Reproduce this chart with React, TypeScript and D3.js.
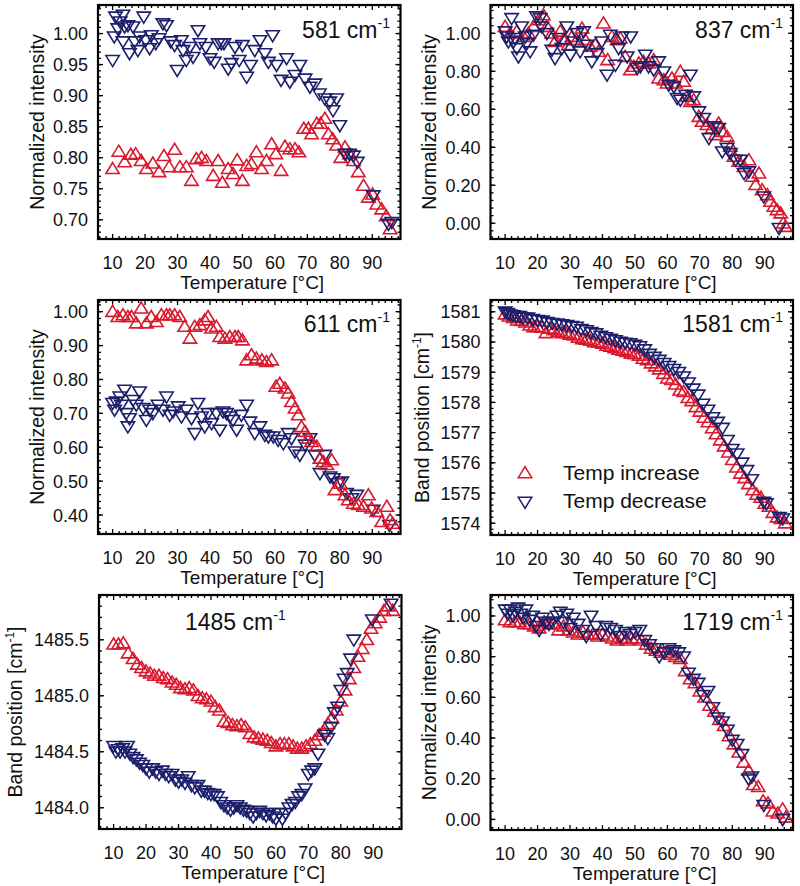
import React from "react";
import * as d3 from "d3";

// ---------------- DATA ----------------
// 581 cm-1
const t581Inc = [10, 11.9, 13.7, 15.6, 17.1, 18.8, 20.4, 22.4, 24.3, 25.8, 27.4, 29.1, 30.7, 32.7, 34.3, 35.8, 37.4, 38.9, 41, 42.5, 43.8, 45.6, 47.1, 48.4, 50, 51.3, 52.8, 54.3, 55.9, 57.4, 59, 60.3, 61.9, 63.1, 64.6, 66.2, 67.4, 68.9, 70.3, 71.3, 72.9, 74.1, 75.4, 76.5, 77.8, 79, 80.3, 81.6, 83, 84.2, 85.7, 87.3, 88.8, 90.1, 91.4, 92.9, 94.3, 95.5];
const v581Inc = [0.782, 0.81, 0.793, 0.805, 0.806, 0.795, 0.782, 0.791, 0.777, 0.803, 0.785, 0.813, 0.785, 0.785, 0.763, 0.798, 0.8, 0.795, 0.771, 0.795, 0.76, 0.782, 0.774, 0.796, 0.763, 0.787, 0.79, 0.809, 0.782, 0.795, 0.822, 0.806, 0.779, 0.818, 0.814, 0.814, 0.809, 0.847, 0.847, 0.838, 0.855, 0.855, 0.863, 0.838, 0.83, 0.82, 0.8, 0.817, 0.806, 0.795, 0.777, 0.755, 0.736, 0.741, 0.725, 0.717, 0.706, 0.685];
const t581Dec = [10, 10.5, 10.9, 11.6, 12.3, 13.2, 13.7, 13.2, 14.7, 15.2, 16.3, 16.8, 17.8, 18.3, 19.6, 20.2, 21.4, 21.9, 23.3, 24.3, 25.5, 26.6, 27.9, 29.1, 29.9, 31.2, 31.7, 32.7, 33.8, 34.8, 36.3, 36.9, 38.7, 40, 41.3, 42.5, 43.5, 44.3, 45.6, 46.6, 47.7, 49, 50, 51.3, 52.5, 53.8, 55.4, 56.9, 58, 59.3, 60.5, 61.9, 63.6, 64.6, 66.2, 67.7, 69.3, 70.8, 72.3, 73.7, 75.4, 76.9, 77.9, 79, 80, 81.6, 83, 84.2, 85.4, 90.3, 95, 96];
const v581Dec = [0.957, 0.995, 1.027, 1.008, 1.019, 1.03, 1.011, 0.987, 1.013, 0.968, 1.011, 0.987, 0.973, 0.995, 1.027, 0.989, 0.976, 0.997, 0.984, 0.992, 1.016, 1.013, 0.987, 0.981, 0.941, 0.989, 0.973, 0.957, 0.978, 0.962, 1.005, 0.984, 0.978, 0.96, 0.954, 0.984, 0.984, 0.984, 0.943, 0.952, 0.978, 0.957, 0.981, 0.93, 0.949, 0.973, 0.989, 0.968, 0.954, 0.997, 0.949, 0.925, 0.96, 0.922, 0.933, 0.949, 0.927, 0.914, 0.919, 0.903, 0.895, 0.89, 0.876, 0.895, 0.852, 0.806, 0.806, 0.803, 0.793, 0.739, 0.693, 0.696];

// 837 cm-1
const t837Inc = [10, 11.5, 13.6, 15.7, 17.2, 18.7, 20.3, 21.8, 22.9, 24.4, 25.4, 27, 28, 29.5, 30.6, 32.1, 33.7, 34.7, 36.2, 37.8, 38.8, 40.3, 41.6, 42.9, 44.5, 45.5, 47, 48.6, 49.6, 51.2, 52.7, 54.2, 55.8, 57.3, 58.9, 59.9, 61.4, 62.5, 64, 65, 66.1, 67.1, 68.1, 69.7, 70.7, 72.2, 73.8, 74.8, 75.8, 76.9, 78.4, 79.4, 80.5, 82, 83.6, 85.1, 86.1, 87.2, 88.2, 89.2, 90.8, 91.8, 92.8, 93.8, 94.9, 95.7, 96.4];
const v837Inc = [1.035, 1.0, 1.01, 0.982, 1.0, 1.035, 1.07, 1.096, 1.035, 1.0, 0.956, 1.01, 0.965, 0.939, 0.982, 0.965, 1.026, 0.965, 0.93, 0.939, 0.904, 1.053, 0.86, 0.982, 0.965, 0.974, 0.877, 0.807, 0.825, 0.842, 0.851, 0.842, 0.86, 0.763, 0.754, 0.737, 0.763, 0.737, 0.798, 0.746, 0.667, 0.64, 0.649, 0.561, 0.535, 0.518, 0.5, 0.465, 0.526, 0.482, 0.456, 0.404, 0.351, 0.325, 0.298, 0.333, 0.246, 0.202, 0.263, 0.175, 0.149, 0.114, 0.088, 0.07, 0.053, 0.0, -0.018];
const t837Dec = [10, 10.5, 11, 12, 12.6, 13, 13.6, 14.1, 15.1, 16.2, 16.7, 17.7, 18.7, 19.7, 20.8, 21.3, 22.9, 24.4, 25.4, 26.5, 27.5, 29, 30.1, 31.1, 32.1, 33.1, 34.2, 35.2, 36.7, 38.3, 39.8, 41.4, 42.4, 44, 45, 46.1, 47.6, 48.7, 50.7, 51.7, 53.2, 54.2, 55.8, 57.3, 58.9, 60.4, 62, 63, 64, 65.6, 67.1, 68.1, 69.7, 71.2, 72.8, 74.3, 75.8, 76.9, 78.4, 79.4, 81, 82.5, 83.6, 85.1, 89.7, 94.4];
const v837Dec = [1.009, 0.982, 0.956, 1.079, 0.956, 0.974, 0.921, 0.877, 1.035, 0.982, 0.947, 0.904, 0.991, 1.088, 1.079, 1.035, 1.0, 0.912, 0.868, 0.974, 0.921, 1.035, 0.886, 0.956, 1.0, 0.904, 1.009, 0.939, 0.851, 0.895, 0.956, 0.781, 0.991, 0.833, 0.921, 0.982, 0.877, 0.982, 0.816, 0.825, 0.886, 0.825, 0.807, 0.851, 0.798, 0.728, 0.719, 0.658, 0.649, 0.675, 0.781, 0.667, 0.588, 0.553, 0.447, 0.509, 0.5, 0.377, 0.395, 0.368, 0.333, 0.333, 0.263, 0.272, 0.14, -0.026];

// 611 cm-1
const t611Inc = [10, 11.6, 13.2, 14.7, 15.8, 17.3, 18.8, 20.4, 21.9, 23.5, 25, 26.6, 27.6, 29.1, 30.7, 32.2, 33.8, 35.3, 36.9, 38.4, 39.4, 40.5, 42, 43, 44.6, 46.1, 47.7, 48.7, 50, 51.3, 52.8, 54.3, 56, 57.4, 59, 60.3, 61.5, 63.1, 64.1, 65.1, 66.2, 67.2, 68.2, 69.3, 70.3, 71.3, 72.9, 73.9, 74.9, 76, 77.5, 78.5, 80.1, 81.6, 82.6, 84.2, 85.7, 87.3, 88.8, 89.8, 91.4, 92.9, 94.5, 95.5, 96.3];
const v611Inc = [1.0, 0.985, 0.99, 0.985, 0.985, 0.966, 1.01, 0.966, 0.985, 0.97, 0.99, 0.99, 0.99, 0.99, 0.985, 0.956, 0.921, 0.956, 0.961, 0.975, 0.985, 0.951, 0.956, 0.926, 0.921, 0.926, 0.926, 0.926, 0.916, 0.857, 0.872, 0.862, 0.857, 0.852, 0.857, 0.779, 0.788, 0.774, 0.759, 0.734, 0.715, 0.695, 0.66, 0.646, 0.626, 0.616, 0.602, 0.567, 0.557, 0.548, 0.562, 0.474, 0.493, 0.459, 0.444, 0.434, 0.43, 0.425, 0.459, 0.42, 0.41, 0.38, 0.425, 0.385, 0.375];
const t611Dec = [10, 10.6, 11.1, 12.2, 12.7, 13.7, 14.2, 14.7, 15.2, 16.3, 17.3, 18.3, 19.4, 20.4, 21.4, 22.4, 24, 25.5, 26.6, 27.6, 28.6, 30.2, 31.2, 32.7, 34.3, 35.3, 36.3, 37.4, 38.4, 39.4, 40.5, 42, 43, 44, 45.1, 46.1, 47.1, 48.2, 49.7, 51.3, 52.3, 53.8, 55.4, 56.9, 58, 59.5, 61, 62.6, 64.1, 65.1, 66.2, 67.7, 69.3, 70.8, 72.3, 73.9, 75.4, 77, 78, 79.5, 80.6, 82.1, 83.7, 85.2, 90.3, 95.3];
const v611Dec = [0.73, 0.71, 0.734, 0.749, 0.725, 0.769, 0.7, 0.661, 0.685, 0.739, 0.725, 0.764, 0.715, 0.68, 0.71, 0.7, 0.725, 0.71, 0.749, 0.695, 0.705, 0.72, 0.69, 0.71, 0.685, 0.641, 0.73, 0.69, 0.661, 0.7, 0.67, 0.7, 0.651, 0.705, 0.7, 0.69, 0.68, 0.651, 0.695, 0.725, 0.675, 0.641, 0.661, 0.636, 0.631, 0.631, 0.621, 0.611, 0.641, 0.626, 0.587, 0.577, 0.607, 0.626, 0.577, 0.523, 0.577, 0.513, 0.508, 0.493, 0.498, 0.464, 0.449, 0.459, 0.415, 0.37];

// 1581 cm-1
const t1581Inc = [10, 11.2, 12.5, 13.8, 15, 16.3, 17.6, 18.8, 20, 21.3, 22.6, 23.8, 25, 26.3, 27.5, 28.8, 30, 31.3, 32.5, 33.8, 35, 36.3, 37.5, 38.8, 40, 41.3, 42.5, 43.8, 45, 46.3, 47.5, 48.8, 50, 51.3, 52.5, 53.8, 55, 56.3, 57.5, 58.8, 60, 61.3, 62.5, 63.8, 65, 66.3, 67.5, 68.8, 70, 71.3, 72.5, 73.8, 75, 76.3, 77.5, 78.8, 80, 81.3, 82.5, 83.8, 85, 86.3, 87.5, 88.8, 90, 91.3, 92.5, 93.8, 95, 96.3];
const v1581Inc = [1580.92, 1580.85, 1580.8, 1580.72, 1580.7, 1580.65, 1580.55, 1580.5, 1580.5, 1580.48, 1580.3, 1580.45, 1580.4, 1580.35, 1580.3, 1580.3, 1580.25, 1580.22, 1580.15, 1580.1, 1580.08, 1580.05, 1580.0, 1579.98, 1579.95, 1579.88, 1579.85, 1579.8, 1579.75, 1579.72, 1579.68, 1579.62, 1579.6, 1579.55, 1579.45, 1579.4, 1579.3, 1579.2, 1579.1, 1578.95, 1578.8, 1578.75, 1578.6, 1578.4, 1578.35, 1578.15, 1578.05, 1577.85, 1577.7, 1577.5, 1577.35, 1577.15, 1576.95, 1576.75, 1576.55, 1576.35, 1576.1, 1575.85, 1575.65, 1575.5, 1575.3, 1575.1, 1574.95, 1574.85, 1574.65, 1574.55, 1574.35, 1574.2, 1574.15, 1574.0];
const t1581Dec = [10, 10.8, 11.6, 12.5, 13.5, 14.5, 15.5, 17, 18.5, 20, 21.5, 23, 24.5, 26, 27.5, 29, 30.5, 32, 33.5, 35, 36.5, 38, 39.5, 41, 42.5, 44, 45.5, 47, 48.5, 50, 51.5, 53, 54.5, 56, 57.5, 59, 60.5, 62, 63.5, 65, 66.5, 68, 69.5, 71, 72.5, 74, 75.5, 77, 78.5, 80, 81.5, 83, 84.5, 86, 89.7, 90.5, 94.5, 95.5];
const v1581Dec = [1581.0, 1580.95, 1580.9, 1580.88, 1580.85, 1580.85, 1580.8, 1580.8, 1580.75, 1580.72, 1580.7, 1580.65, 1580.62, 1580.6, 1580.58, 1580.55, 1580.52, 1580.5, 1580.42, 1580.38, 1580.32, 1580.28, 1580.2, 1580.15, 1580.1, 1580.05, 1580.0, 1579.97, 1579.95, 1579.9, 1579.85, 1579.75, 1579.6, 1579.5, 1579.4, 1579.3, 1579.2, 1579.1, 1579.0, 1578.85, 1578.65, 1578.45, 1578.25, 1577.95, 1577.75, 1577.5, 1577.35, 1577.15, 1576.75, 1576.45, 1576.3, 1576.0, 1575.75, 1575.45, 1574.7, 1574.65, 1574.2, 1574.15];

// 1485 cm-1
const t1485Inc = [10, 11.5, 13, 14.5, 16, 17.3, 18.6, 20, 21.3, 22.6, 24, 25.3, 26.6, 28, 29.3, 30.6, 32, 33.3, 34.6, 36, 37.3, 38.6, 40, 41.3, 42.6, 44, 45.3, 46.6, 48, 49.3, 50.6, 52, 53.3, 54.6, 56, 57.3, 58.6, 60, 61.3, 62.6, 64, 65.3, 66.6, 68, 69.3, 70.6, 72, 73.3, 74.6, 76, 77.3, 78.6, 80, 81.3, 82.6, 84, 85.3, 86.6, 88, 89.3, 90.6, 92, 93.3, 94.6, 96];
const v1485Inc = [1485.46, 1485.46, 1485.47, 1485.38, 1485.33, 1485.28, 1485.25, 1485.22, 1485.2, 1485.18, 1485.18, 1485.16, 1485.15, 1485.12, 1485.1, 1485.07, 1485.06, 1485.07, 1485.05, 1485.0, 1484.98, 1484.97, 1484.95, 1484.9, 1484.87, 1484.77, 1484.76, 1484.74, 1484.73, 1484.74, 1484.72, 1484.66, 1484.63, 1484.62, 1484.61, 1484.6, 1484.58, 1484.55, 1484.57, 1484.57, 1484.57, 1484.55, 1484.53, 1484.53, 1484.55, 1484.57, 1484.6, 1484.65, 1484.68, 1484.75, 1484.8, 1484.87, 1484.95, 1485.05, 1485.15, 1485.25, 1485.35, 1485.42, 1485.5, 1485.6, 1485.65, 1485.7, 1485.76, 1485.8, 1485.76];
const t1485Dec = [10, 10.7, 11.4, 12, 12.8, 13.5, 14.3, 15, 16, 17, 18, 19, 20, 21, 22, 23, 24, 25, 26, 27, 28, 29, 30, 31, 32, 33, 34, 35, 36, 37, 38, 39, 40, 41, 42, 43, 44, 45, 46, 47, 48, 49, 50, 51, 52, 53, 54, 55, 56, 57, 58, 59, 60, 61, 62, 63, 64, 65, 66, 67, 68, 69, 70, 71, 72, 73, 75, 76, 77, 78, 79, 80, 81, 82, 83, 84, 89.7, 95.5];
const v1485Dec = [1484.55, 1484.5, 1484.52, 1484.5, 1484.53, 1484.5, 1484.55, 1484.48, 1484.45, 1484.43, 1484.4, 1484.38, 1484.35, 1484.32, 1484.35, 1484.32, 1484.3, 1484.33, 1484.3, 1484.28, 1484.3, 1484.25, 1484.23, 1484.25, 1484.22, 1484.28, 1484.2, 1484.18, 1484.2, 1484.15, 1484.15, 1484.13, 1484.12, 1484.12, 1484.1, 1484.05, 1484.02, 1484.0, 1483.98, 1484.0, 1484.02, 1484.0, 1483.98, 1483.97, 1483.95, 1483.92, 1483.95, 1483.97, 1483.95, 1483.93, 1483.95, 1483.92, 1483.9, 1483.95, 1483.9, 1483.95, 1484.0, 1484.03, 1484.05, 1484.1, 1484.12, 1484.17, 1484.3, 1484.33, 1484.35, 1484.48, 1484.65, 1484.62, 1484.72, 1484.85, 1484.9, 1485.05, 1485.15, 1485.2, 1485.33, 1485.5, 1485.68, 1485.82];

// 1719 cm-1
const t1719Inc = [10, 11.5, 13, 14.5, 16, 17.5, 19, 20.5, 22, 23.5, 25, 26.5, 28, 29.5, 31, 32.5, 34, 35.5, 37, 38.5, 40, 41.5, 43, 44.5, 46, 47.5, 49, 50.5, 52, 53.5, 55, 56.5, 58, 59.5, 61, 62.5, 64, 65.5, 67, 68.5, 70, 71.5, 73, 74.5, 76, 77.5, 79, 80.5, 82, 83.5, 85, 86.5, 88, 89.5, 91, 92.5, 94, 95.5, 96.5];
const v1719Inc = [0.98, 0.97, 0.97, 0.97, 0.96, 0.96, 0.95, 0.94, 0.97, 0.96, 0.96, 0.93, 0.95, 0.93, 0.92, 0.91, 0.92, 0.91, 0.91, 0.9, 0.91, 0.9, 0.89, 0.88, 0.89, 0.88, 0.89, 0.89, 0.88, 0.86, 0.84, 0.83, 0.82, 0.82, 0.81, 0.8, 0.79, 0.73, 0.69, 0.67, 0.63, 0.6, 0.56, 0.53, 0.49, 0.46, 0.41, 0.37, 0.33, 0.28, 0.24, 0.17, 0.16, 0.09, 0.08, 0.04, 0.03, 0.05, 0.01];
const t1719Dec = [10, 10.8, 11.6, 12.4, 13.2, 14, 14.8, 15.6, 16.4, 17.5, 18.5, 19.5, 20.5, 21.5, 22.5, 23.5, 24.5, 26, 27, 28, 29, 30, 31, 32.5, 34, 35, 36.5, 38, 39.5, 41, 42.5, 44, 45.5, 47, 48.5, 50, 51.5, 53, 54.5, 56, 57.5, 59, 60.5, 62, 63.5, 65, 66.5, 68, 69.5, 71, 72.5, 74, 75.5, 77, 78.5, 80, 81.5, 83, 85, 86, 89.7, 95.5];
const v1719Dec = [1.03, 1.01, 1.03, 1.0, 1.02, 1.04, 1.01, 0.99, 1.03, 0.98, 1.0, 0.95, 0.93, 0.99, 0.97, 0.96, 0.97, 1.0, 1.02, 0.97, 1.01, 0.94, 0.99, 0.96, 0.93, 0.9, 1.0, 0.95, 0.91, 0.95, 0.94, 0.93, 0.9, 0.92, 0.91, 0.92, 0.93, 0.88, 0.86, 0.84, 0.8, 0.82, 0.84, 0.83, 0.82, 0.8, 0.72, 0.69, 0.67, 0.61, 0.63, 0.55, 0.5, 0.48, 0.44, 0.39, 0.37, 0.32, 0.2, 0.21, 0.07, 0.0];

const xTickLabels = [10, 20, 30, 40, 50, 60, 70, 80, 90];
const legendLabels = ["Temp increase", "Temp decrease"];

// ---------------- STYLE ----------------
const FONT = "'Liberation Sans', Arial, Helvetica, sans-serif";
const RED = "#d8192e";
const BLUE = "#1b1f6c";
const UP = "M0,-6.3L6.7,4.7L-6.7,4.7Z";
const DOWN = "M0,6.3L6.7,-4.7L-6.7,-4.7Z";

type Series = { t: number[]; v: number[]; color: string; up: boolean };

type PanelProps = {
  left: number;
  top: number;
  width: number;
  height: number;
  yDomain: [number, number];
  yMajor: number[];
  yMinorStep: number;
  yFmt: (v: number) => string;
  series: Series[];
  title: string;
  titleX: number;
  titleAnchor: "start" | "end";
  titleY: number;
  yLabel: "int" | "band";
  yLabelX: number;
  legend?: boolean;
};

const X_DOMAIN: [number, number] = [5.5, 98.7];

function Panel(p: PanelProps) {
  const x = d3.scaleLinear().domain(X_DOMAIN).range([p.left, p.left + p.width]);
  const y = d3.scaleLinear().domain(p.yDomain).range([p.top + p.height, p.top]);
  const bottom = p.top + p.height;
  const right = p.left + p.width;
  const xMinor = d3.range(6, 99, 2).filter((v) => v % 10 !== 0);
  const yMinor: number[] = [];
  const n0 = Math.ceil(p.yDomain[0] / p.yMinorStep - 1e-6);
  const n1 = Math.floor(p.yDomain[1] / p.yMinorStep + 1e-6);
  for (let i = n0; i <= n1; i++) yMinor.push(i * p.yMinorStep);
  const MAJ = 5;
  const MIN = 3;
  const cy = p.top + p.height / 2;
  return (
    <g>
      {/* ticks */}
      <g stroke="#000" strokeWidth={1.3}>
        {xTickLabels.map((v) => (
          <g key={"xm" + v}>
            <line x1={x(v)} x2={x(v)} y1={bottom} y2={bottom - MAJ} />
            <line x1={x(v)} x2={x(v)} y1={p.top} y2={p.top + MAJ} />
          </g>
        ))}
        {xMinor.map((v) => (
          <g key={"xn" + v}>
            <line x1={x(v)} x2={x(v)} y1={bottom} y2={bottom - MIN} />
            <line x1={x(v)} x2={x(v)} y1={p.top} y2={p.top + MIN} />
          </g>
        ))}
        {p.yMajor.map((v) => (
          <g key={"ym" + v}>
            <line x1={p.left} x2={p.left + MAJ} y1={y(v)} y2={y(v)} />
            <line x1={right} x2={right - MAJ} y1={y(v)} y2={y(v)} />
          </g>
        ))}
        {yMinor.map((v, i) => (
          <g key={"yn" + i}>
            <line x1={p.left} x2={p.left + MIN} y1={y(v)} y2={y(v)} />
            <line x1={right} x2={right - MIN} y1={y(v)} y2={y(v)} />
          </g>
        ))}
      </g>
      {/* data */}
      {p.series.map((s, si) => (
        <g key={"s" + si} fill="none" stroke={s.color} strokeWidth={1.6} strokeLinejoin="miter">
          {s.t.map((t, i) => (
            <path key={i} d={s.up ? UP : DOWN} transform={`translate(${x(t)},${y(s.v[i])})`} />
          ))}
        </g>
      ))}
      {/* frame */}
      <rect x={p.left} y={p.top} width={p.width} height={p.height} fill="none" stroke="#000" strokeWidth={2.2} />
      {/* tick labels */}
      <g fontFamily={FONT} fontSize={18} fill="#111">
        {xTickLabels.map((v) => (
          <text key={"xl" + v} x={x(v)} y={bottom + 30} textAnchor="middle">
            {v}
          </text>
        ))}
        {p.yMajor.map((v) => (
          <text key={"yl" + v} x={p.left - 10} y={y(v) + 6.5} textAnchor="end">
            {p.yFmt(v)}
          </text>
        ))}
      </g>
      <text x={(p.left + right) / 2 + 3} y={bottom + 50} textAnchor="middle" fontFamily={FONT} fontSize={19} fill="#111">
        Temperature [°C]
      </text>
      <text
        transform={`translate(${p.yLabelX},${cy}) rotate(-90)`}
        textAnchor="middle"
        fontFamily={FONT}
        fontSize={19.5}
        fill="#111"
      >
        {p.yLabel === "int" ? (
          "Normalized intensity"
        ) : (
          <>
            Band position [cm
            <tspan fontSize={12} dy={-8}>-1</tspan>
            <tspan dy={8}>]</tspan>
          </>
        )}
      </text>
      {/* title */}
      <text x={p.titleX} y={p.titleY} textAnchor={p.titleAnchor} fontFamily={FONT} fontSize={23} fill="#111">
        {p.title} cm
        <tspan fontSize={14} dy={-10}>-1</tspan>
      </text>
      {p.legend && (
        <g fontFamily={FONT} fontSize={21} fill="#111">
          <path d={UP} transform="translate(525,473)" fill="none" stroke={RED} strokeWidth={1.6} />
          <text x={563} y={480}>{legendLabels[0]}</text>
          <path d={DOWN} transform="translate(525,502)" fill="none" stroke={BLUE} strokeWidth={1.6} />
          <text x={563} y={508}>{legendLabels[1]}</text>
        </g>
      )}
    </g>
  );
}

const f2 = d3.format(".2f");
const f1 = d3.format(".1f");
const f0 = d3.format("d");

export default function App() {
  const LX = 98;
  const RX = 490.5;
  const W = 302.5;
  const H = 234;
  const rows = [5, 300, 595];
  return (
    <svg
      width={800}
      height={886}
      style={{ position: "absolute", left: 0, top: 0, background: "#fff" }}
    >
      <rect width={800} height={886} fill="#fff" />
      <Panel
        left={LX} top={rows[0]} width={W} height={H}
        yDomain={[0.669, 1.046]}
        yMajor={[0.7, 0.75, 0.8, 0.85, 0.9, 0.95, 1.0]}
        yMinorStep={0.01}
        yFmt={f2}
        series={[
          { t: t581Inc, v: v581Inc, color: RED, up: true },
          { t: t581Dec, v: v581Dec, color: BLUE, up: false },
        ]}
        title="581" titleX={390} titleAnchor="end" titleY={38}
        yLabel="int" yLabelX={44}
      />
      <Panel
        left={RX} top={rows[0]} width={W} height={H}
        yDomain={[-0.083, 1.149]}
        yMajor={[0, 0.2, 0.4, 0.6, 0.8, 1.0]}
        yMinorStep={0.04}
        yFmt={f2}
        series={[
          { t: t837Inc, v: v837Inc, color: RED, up: true },
          { t: t837Dec, v: v837Dec, color: BLUE, up: false },
        ]}
        title="837" titleX={783} titleAnchor="end" titleY={38}
        yLabel="int" yLabelX={436}
      />
      <Panel
        left={LX} top={rows[1]} width={W} height={H}
        yDomain={[0.344, 1.0345]}
        yMajor={[0.4, 0.5, 0.6, 0.7, 0.8, 0.9, 1.0]}
        yMinorStep={0.02}
        yFmt={f2}
        series={[
          { t: t611Dec, v: v611Dec, color: BLUE, up: false },
          { t: t611Inc, v: v611Inc, color: RED, up: true },
        ]}
        title="611" titleX={390} titleAnchor="end" titleY={332}
        yLabel="int" yLabelX={44}
      />
      <Panel
        left={RX} top={rows[1]} width={W} height={H + 1}
        yDomain={[1573.61, 1581.39]}
        yMajor={[1574, 1575, 1576, 1577, 1578, 1579, 1580, 1581]}
        yMinorStep={0.2}
        yFmt={f0}
        series={[
          { t: t1581Inc, v: v1581Inc, color: RED, up: true },
          { t: t1581Dec, v: v1581Dec, color: BLUE, up: false },
        ]}
        title="1581" titleX={783} titleAnchor="end" titleY={332}
        yLabel="band" yLabelX={429}
        legend
      />
      <Panel
        left={LX + 1} top={rows[2]} width={W} height={H}
        yDomain={[1483.81, 1485.9]}
        yMajor={[1484.0, 1484.5, 1485.0, 1485.5]}
        yMinorStep={0.1}
        yFmt={f1}
        series={[
          { t: t1485Inc, v: v1485Inc, color: RED, up: true },
          { t: t1485Dec, v: v1485Dec, color: BLUE, up: false },
        ]}
        title="1485" titleX={185} titleAnchor="start" titleY={630}
        yLabel="band" yLabelX={22}
      />
      <Panel
        left={RX} top={rows[2]} width={W} height={H + 1}
        yDomain={[-0.052, 1.103]}
        yMajor={[0, 0.2, 0.4, 0.6, 0.8, 1.0]}
        yMinorStep={0.04}
        yFmt={f2}
        series={[
          { t: t1719Inc, v: v1719Inc, color: RED, up: true },
          { t: t1719Dec, v: v1719Dec, color: BLUE, up: false },
        ]}
        title="1719" titleX={783} titleAnchor="end" titleY={630}
        yLabel="int" yLabelX={436}
      />
    </svg>
  );
}
